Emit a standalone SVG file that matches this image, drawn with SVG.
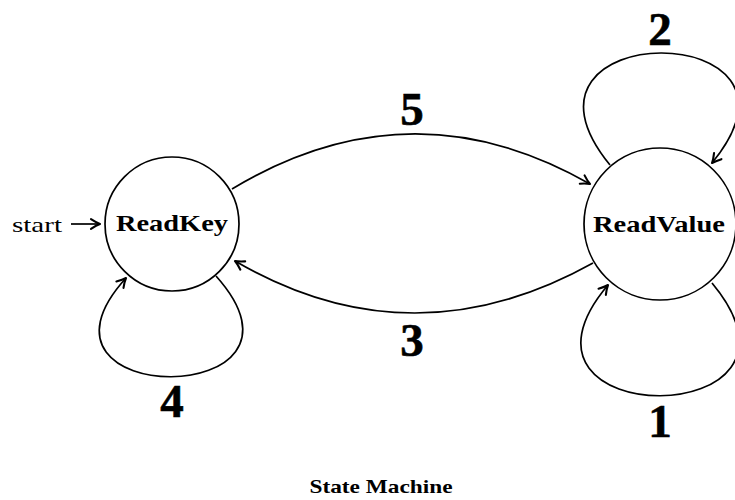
<svg xmlns="http://www.w3.org/2000/svg" width="735" height="500" viewBox="0 0 735 500">
<style>
.state{fill:#fff;stroke:#000;stroke-width:1.7}
.edge{fill:none;stroke:#000;stroke-width:1.7;marker-end:url(#arr)}
.name{font-family:"Liberation Serif","DejaVu Serif",serif;font-weight:bold;font-size:24px;text-anchor:middle;fill:#000}
.lbl{font-family:"Liberation Serif","DejaVu Serif",serif;font-weight:bold;font-size:47px;text-anchor:middle;fill:#000;stroke:#000;stroke-width:0.6}
.plain{font-family:"Liberation Serif","DejaVu Serif",serif;font-size:22px;fill:#000}
.title{font-family:"Liberation Serif","DejaVu Serif",serif;font-weight:bold;font-size:19px;text-anchor:middle;fill:#000}
</style>
<defs>
<marker id="arr" markerUnits="userSpaceOnUse" viewBox="-12 -7 14 14" refX="0" refY="0" markerWidth="14" markerHeight="14" orient="auto">
<path d="M-9,-4.8 Q-3.5,-1.2 0,0 Q-3.5,1.2 -9,4.8" fill="none" stroke="#000" stroke-width="2.1" stroke-linecap="round" stroke-linejoin="round"/>
</marker>
</defs>
<rect width="735" height="500" fill="#fff"/>
<g id="connectors">
<path id="start-arrow" class="edge" d="M71,224 L100,224"/>
<path id="e5" class="edge" d="M232,189 Q411,81.5 590,184"/>
<path id="e3" class="edge" d="M593,263 Q412,364 235,261"/>
<path id="e4" class="edge" d="M216,276 C336,410 6,410 126,278"/>
<path id="e2" class="edge" d="M610,165 C488,16 834,16 712,163"/>
<path id="e1" class="edge" d="M712,283 C837,433 483,433 608,285"/>
</g>
<g id="ReadKey">
<circle class="state" cx="172" cy="224" r="67"/>
<text class="name" x="172" y="231" textLength="112" lengthAdjust="spacingAndGlyphs">ReadKey</text>
</g>
<g id="ReadValue">
<circle class="state" cx="660" cy="224" r="76"/>
<text class="name" x="659" y="232" textLength="132" lengthAdjust="spacingAndGlyphs">ReadValue</text>
</g>
<g id="labels">
<text class="plain" x="12" y="232" textLength="50" lengthAdjust="spacingAndGlyphs">start</text>
<text class="lbl" x="412" y="125">5</text>
<text class="lbl" x="412" y="356">3</text>
<text class="lbl" x="660" y="45">2</text>
<text class="lbl" x="660" y="437">1</text>
<text class="lbl" x="172" y="417">4</text>
<text class="title" x="381" y="493" textLength="143" lengthAdjust="spacingAndGlyphs">State Machine</text>
</g>
</svg>
